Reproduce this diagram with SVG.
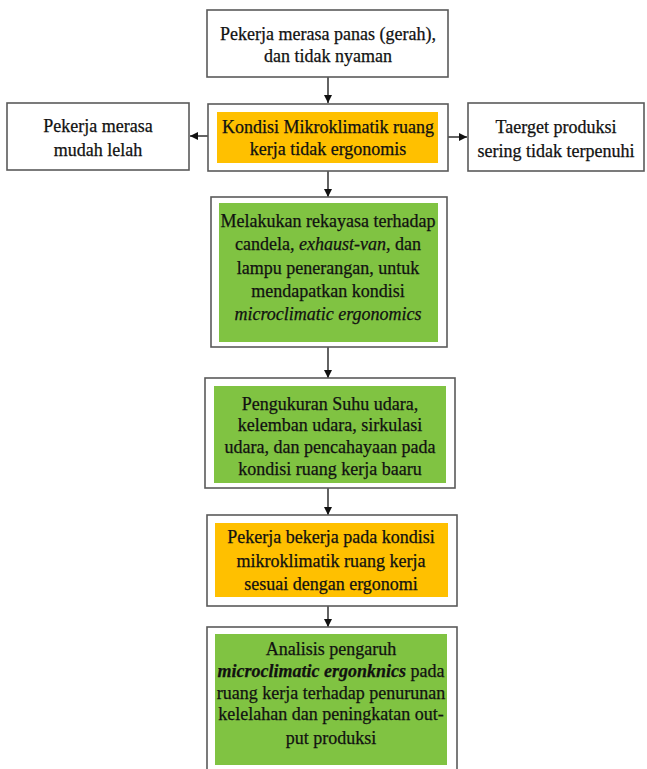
<svg xmlns="http://www.w3.org/2000/svg" width="647" height="769" viewBox="0 0 647 769">
<style>
.box{fill:#fff;stroke:#5a5a5a;stroke-width:1.6}
.org{fill:#ffc000}
.grn{fill:#80c342}
text{font-family:"Liberation Serif","Times New Roman",serif;font-size:18px;fill:#111;text-anchor:middle;stroke:#111;stroke-width:0.25}
.it{font-style:italic}
.bi{font-style:italic;font-weight:bold}
.con{stroke:#222;stroke-width:1.4;fill:none;marker-end:url(#ah)}
</style>
<defs>
<marker id="ah" viewBox="0 0 10 10" refX="10" refY="5" markerWidth="8" markerHeight="8" markerUnits="userSpaceOnUse" orient="auto">
<path d="M0,0 L10,5 L0,10 Z" fill="#111"/>
</marker>
</defs>
<rect width="647" height="769" fill="#fff"/>
<g id="connectors">
<line class="con" x1="328" y1="77" x2="328" y2="103"/>
<line class="con" x1="208" y1="136" x2="190" y2="136"/>
<line class="con" x1="448" y1="137" x2="467" y2="137"/>
<line class="con" x1="328" y1="171" x2="328" y2="197"/>
<line class="con" x1="328" y1="347" x2="328" y2="378"/>
<line class="con" x1="328" y1="488" x2="328" y2="515"/>
<line class="con" x1="328" y1="606" x2="328" y2="627"/>
</g>
<g id="n1">
<rect class="box" x="207" y="10" width="241" height="67"/>
<text x="328" y="40">Pekerja merasa panas (gerah),</text>
<text x="328" y="62">dan tidak nyaman</text>
</g>
<g id="n2">
<rect class="box" x="208" y="104" width="240" height="67"/>
<rect class="org" x="217" y="112" width="221" height="51"/>
<text x="328" y="133">Kondisi Mikroklimatik ruang</text>
<text x="328" y="155">kerja tidak ergonomis</text>
</g>
<g id="n3">
<rect class="box" x="7" y="103" width="182" height="67"/>
<text x="98" y="132">Pekerja merasa</text>
<text x="98" y="156">mudah lelah</text>
</g>
<g id="n4">
<rect class="box" x="468" y="103" width="176" height="68"/>
<text x="556" y="133">Taerget produksi</text>
<text x="556" y="157">sering tidak terpenuhi</text>
</g>
<g id="n5">
<rect class="box" x="211" y="197" width="236" height="150"/>
<rect class="grn" x="219" y="203" width="219" height="139"/>
<text x="328" y="227">Melakukan rekayasa terhadap</text>
<text x="328" y="250">candela, <tspan class="it">exhaust-van</tspan>, dan</text>
<text x="328" y="274">lampu penerangan, untuk</text>
<text x="328" y="297">mendapatkan kondisi</text>
<text x="328" y="320" class="it">microclimatic ergonomics</text>
</g>
<g id="n6">
<rect class="box" x="205" y="378" width="250" height="110"/>
<rect class="grn" x="214" y="386" width="232" height="97"/>
<text x="330" y="410">Pengukuran Suhu udara,</text>
<text x="330" y="431">kelemban udara, sirkulasi</text>
<text x="330" y="453">udara, dan pencahayaan pada</text>
<text x="330" y="475">kondisi ruang kerja baaru</text>
</g>
<g id="n7">
<rect class="box" x="207" y="515" width="250" height="91"/>
<rect class="org" x="215" y="523" width="233" height="74"/>
<text x="331" y="543">Pekerja bekerja pada kondisi</text>
<text x="331" y="567">mikroklimatik ruang kerja</text>
<text x="331" y="590">sesuai dengan ergonomi</text>
</g>
<g id="n8">
<rect class="box" x="207" y="627" width="250" height="150"/>
<rect class="grn" x="215" y="634" width="232" height="131"/>
<text x="331" y="655">Analisis pengaruh</text>
<text x="331" y="677"><tspan class="bi">microclimatic ergonknics</tspan> pada</text>
<text x="331" y="699">ruang kerja terhadap penurunan</text>
<text x="331" y="720">kelelahan dan peningkatan out-</text>
<text x="331" y="744">put produksi</text>
</g>
</svg>
